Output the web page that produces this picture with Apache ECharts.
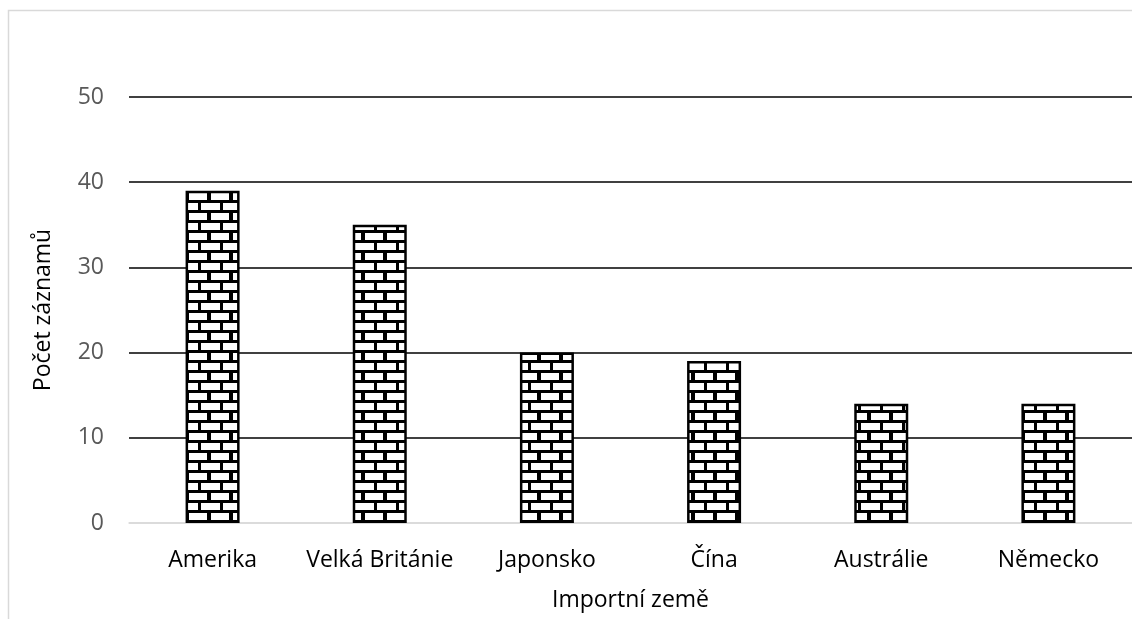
<!DOCTYPE html>
<html>
<head>
<meta charset="utf-8">
<script src="https://cdn.jsdelivr.net/npm/echarts@6/dist/echarts.min.js"></script>
<style>
  html, body { margin: 0; padding: 0; background: #fff; }
  #chart { width: 1132px; height: 619px; }
</style>
</head>
<body>
<div id="chart"></div>
<script>
// Import countries and number of records per country
const countries = ['Amerika', 'Velká Británie', 'Japonsko', 'Čína', 'Austrálie', 'Německo'];
const recordCounts = [39, 35, 20, 19, 14, 14];
const yTicks = [0, 10, 20, 30, 40, 50];

// Brick fill: white bricks with black mortar, alternate rows offset by half a brick
function brickPattern() {
  const w = 22, rowH = 10, mortar = 3, joint = 3;
  const c = document.createElement('canvas');
  c.width = w;
  c.height = rowH * 2;
  const ctx = c.getContext('2d');
  ctx.fillStyle = '#000';
  ctx.fillRect(0, 0, w, rowH * 2);
  ctx.fillStyle = '#fff';
  // row 1: joint at x = 0
  ctx.fillRect(joint, mortar, w - joint, rowH - mortar);
  // row 2: joint at x = w/2
  ctx.fillRect(0, rowH + mortar, w / 2 - joint / 2 - 0.5, rowH - mortar);
  ctx.fillRect(w / 2 + joint / 2 + 0.5, rowH + mortar, w / 2 - joint / 2 - 0.5, rowH - mortar);
  return c;
}

const chart = echarts.init(document.getElementById('chart'), null, { renderer: 'canvas' });
const font = '"Open Sans", "Noto Sans", sans-serif';
const fontSize = 23;

chart.setOption({
  animation: false,
  backgroundColor: '#fff',
  graphic: [{
    type: 'rect',
    shape: { x: 8.5, y: 10.5, width: 1300, height: 800 },
    style: { fill: 'none', stroke: '#d9d9d9', lineWidth: 1.5 },
    silent: true,
    z: -10
  }],
  grid: { left: 129, right: -5, top: 97, bottom: 96, containLabel: false },
  xAxis: {
    type: 'category',
    data: countries,
    name: 'Importní země',
    nameLocation: 'middle',
    nameGap: 66,
    nameTextStyle: { fontFamily: font, fontSize: fontSize, color: '#000' },
    axisLine: { show: true, lineStyle: { color: '#d9d9d9', width: 1.5 } },
    axisTick: { show: false },
    axisLabel: { fontFamily: font, fontSize: fontSize, color: '#000', margin: 26, interval: 0 },
    splitLine: { show: false }
  },
  yAxis: {
    type: 'value',
    min: yTicks[0],
    max: yTicks[yTicks.length - 1],
    interval: yTicks[1] - yTicks[0],
    name: 'Počet záznamů',
    nameLocation: 'middle',
    nameGap: 74,
    nameRotate: 90,
    nameTextStyle: { fontFamily: font, fontSize: fontSize, color: '#000' },
    axisLine: { show: false },
    axisTick: { show: false },
    axisLabel: { fontFamily: font, fontSize: fontSize, color: '#595959', margin: 25 },
    splitLine: {
      show: true,
      lineStyle: { color: ['#d9d9d9', '#000', '#000', '#000', '#000', '#000'], width: 1.5 }
    }
  },
  series: [{
    type: 'bar',
    data: recordCounts,
    barWidth: 54,
    itemStyle: {
      color: { image: brickPattern(), repeat: 'repeat' },
      borderColor: '#000',
      borderWidth: 2.5
    },
    z: 3
  }]
});
</script>
</body>
</html>
